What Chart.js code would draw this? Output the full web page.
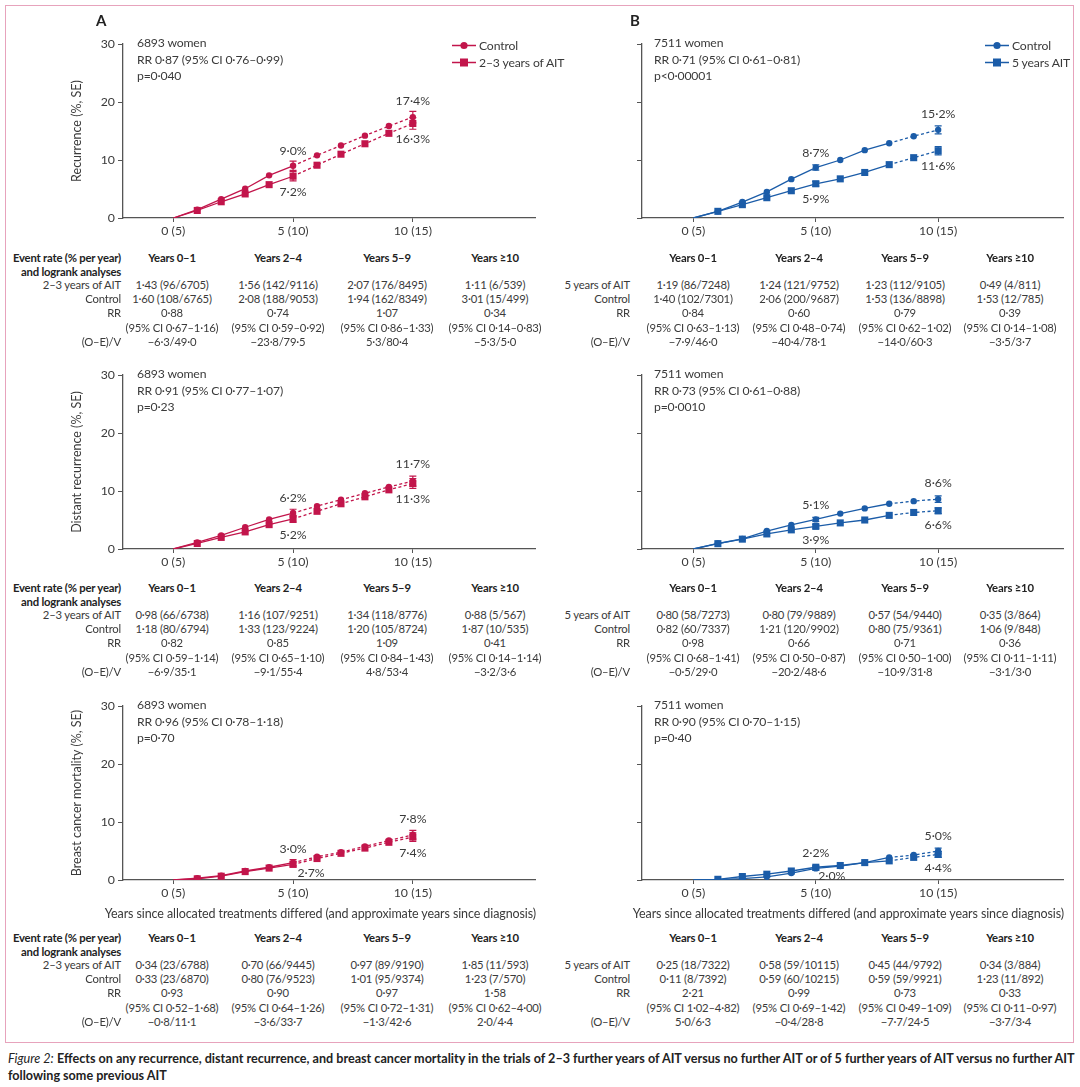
<!DOCTYPE html>
<html><head><meta charset="utf-8">
<script src="https://cdn.jsdelivr.net/npm/chart.js@4.4.0/dist/chart.umd.min.js"></script>
<style>
body{margin:0;width:1080px;height:1087px;background:#fff;position:relative;font-family:Lato,'Open Sans',sans-serif;color:#3a3a3a;overflow:hidden}
#frame{position:absolute;left:5px;top:5px;width:1069px;height:1038px;border:1px solid #e7a3bc;box-sizing:border-box}
.cc{position:absolute}
.t{position:absolute;white-space:nowrap;font-size:11.3px;letter-spacing:-0.2px;line-height:14px;transform:translate(-50%,-50%)}
.r{transform:translate(-100%,-50%)}
.b{font-weight:bold;color:#222}
.ann{position:absolute;white-space:nowrap;font-size:12.2px;letter-spacing:-0.15px;line-height:16.5px;color:#3a3a3a}
.ytitle{position:absolute;white-space:nowrap;font-size:12.5px;color:#3a3a3a;transform:translate(-50%,-50%) rotate(-90deg)}
.xtitle{position:absolute;white-space:nowrap;font-size:12.5px;letter-spacing:-0.1px;color:#3a3a3a;transform:translate(-100%,-50%)}
.panel{position:absolute;font-weight:bold;font-size:15px;color:#222}
.leg{position:absolute;white-space:nowrap;font-size:12.2px;letter-spacing:-0.15px;color:#3a3a3a;display:flex;align-items:center;transform:translate(0,-50%)}
.leg svg{margin-right:3px}
#cap{position:absolute;left:8px;top:1050px;font-size:12.6px;line-height:17px;color:#222;white-space:nowrap}
</style></head><body>
<div id="frame"></div>
<script>
// ---------- data ----------
const years = [0,1,2,3,4,5,6,7,8,9,10];
const xTickVals = [0,5,10];
const xTickLabels = ['0 (5)','5 (10)','10 (15)'];
const yTickVals = [0,10,20,30];
const seIdx = [5,10];

const recA_ctl = [0,1.45,3.25,5.05,7.35,9.0,10.8,12.5,14.2,15.85,17.4];
const recA_ait = [0,1.3,2.8,4.15,5.75,7.2,9.1,11.0,12.8,14.6,16.3];
const recA_ctl_se = [0.8,1.0];
const recA_ait_se = [0.8,1.0];
const recB_ctl = [0,1.15,2.75,4.5,6.7,8.7,10.0,11.7,12.9,14.1,15.2];
const recB_ait = [0,1.15,2.3,3.5,4.7,5.9,6.75,7.85,9.2,10.4,11.6];
const recB_ctl_se = [0.45,0.7];
const recB_ait_se = [0.4,0.7];
const distA_ctl = [0,1.15,2.35,3.75,5.1,6.2,7.4,8.5,9.6,10.7,11.7];
const distA_ait = [0,0.95,2.0,2.95,4.2,5.2,6.5,7.8,9.0,10.2,11.3];
const distA_ctl_se = [0.65,0.85];
const distA_ait_se = [0.6,0.85];
const distB_ctl = [0,0.95,1.75,3.1,4.15,5.1,6.1,7.0,7.8,8.25,8.6];
const distB_ait = [0,0.92,1.7,2.6,3.3,3.9,4.5,5.0,5.8,6.3,6.6];
const distB_ctl_se = [0.35,0.55];
const distB_ait_se = [0.3,0.5];
const mortA_ctl = [0,0.3,0.75,1.55,2.2,3.0,4.0,4.8,5.8,6.8,7.8];
const mortA_ait = [0,0.2,0.65,1.45,2.05,2.7,3.7,4.6,5.5,6.5,7.4];
const mortA_ctl_se = [0.5,0.75];
const mortA_ait_se = [0.45,0.75];
const mortB_ctl = [0,0.05,0.25,0.55,1.2,2.0,2.4,3.0,3.9,4.3,5.0];
const mortB_ait = [0,0.12,0.6,1.0,1.55,2.2,2.5,3.0,3.3,3.9,4.4];
const mortB_ctl_se = [0.3,0.5];
const mortB_ait_se = [0.3,0.5];

// end-point labels: [control@5, ait@5, control@10, ait@10]
const recA_lbl = ['9·0%','7·2%','17·4%','16·3%'];
const recB_lbl = ['8·7%','5·9%','15·2%','11·6%'];
const distA_lbl = ['6·2%','5·2%','11·7%','11·3%'];
const distB_lbl = ['5·1%','3·9%','8·6%','6·6%'];
const mortA_lbl = ['3·0%','2·7%','7·8%','7·4%'];
const mortB_lbl = ['2·0%','2·2%','5·0%','4·4%'];

const recA_note = ['6893 women','RR 0·87 (95% CI 0·76–0·99)','p=0·040'];
const recB_note = ['7511 women','RR 0·71 (95% CI 0·61–0·81)','p<0·00001'];
const distA_note = ['6893 women','RR 0·91 (95% CI 0·77–1·07)','p=0·23'];
const distB_note = ['7511 women','RR 0·73 (95% CI 0·61–0·88)','p=0·0010'];
const mortA_note = ['6893 women','RR 0·96 (95% CI 0·78–1·18)','p=0·70'];
const mortB_note = ['7511 women','RR 0·90 (95% CI 0·70–1·15)','p=0·40'];

const tblHeaders = ['Years 0–1','Years 2–4','Years 5–9','Years ≥10'];
const rowLabelsA = ['2–3 years of AIT','Control','RR','','(O–E)/V'];
const rowLabelsB = ['5 years of AIT','Control','RR','','(O–E)/V'];

const recA_tbl_ait = ['1·43 (96/6705)','1·56 (142/9116)','2·07 (176/8495)','1·11 (6/539)'];
const recA_tbl_ctl = ['1·60 (108/6765)','2·08 (188/9053)','1·94 (162/8349)','3·01 (15/499)'];
const recA_tbl_rr = ['0·88','0·74','1·07','0·34'];
const recA_tbl_ci = ['(95% CI 0·67–1·16)','(95% CI 0·59–0·92)','(95% CI 0·86–1·33)','(95% CI 0·14–0·83)'];
const recA_tbl_oev = ['−6·3/49·0','−23·8/79·5','5·3/80·4','−5·3/5·0'];

const recB_tbl_ait = ['1·19 (86/7248)','1·24 (121/9752)','1·23 (112/9105)','0·49 (4/811)'];
const recB_tbl_ctl = ['1·40 (102/7301)','2·06 (200/9687)','1·53 (136/8898)','1·53 (12/785)'];
const recB_tbl_rr = ['0·84','0·60','0·79','0·39'];
const recB_tbl_ci = ['(95% CI 0·63–1·13)','(95% CI 0·48–0·74)','(95% CI 0·62–1·02)','(95% CI 0·14–1·08)'];
const recB_tbl_oev = ['−7·9/46·0','−40·4/78·1','−14·0/60·3','−3·5/3·7'];

const distA_tbl_ait = ['0·98 (66/6738)','1·16 (107/9251)','1·34 (118/8776)','0·88 (5/567)'];
const distA_tbl_ctl = ['1·18 (80/6794)','1·33 (123/9224)','1·20 (105/8724)','1·87 (10/535)'];
const distA_tbl_rr = ['0·82','0·85','1·09','0·41'];
const distA_tbl_ci = ['(95% CI 0·59–1·14)','(95% CI 0·65–1·10)','(95% CI 0·84–1·43)','(95% CI 0·14–1·14)'];
const distA_tbl_oev = ['−6·9/35·1','−9·1/55·4','4·8/53·4','−3·2/3·6'];

const distB_tbl_ait = ['0·80 (58/7273)','0·80 (79/9889)','0·57 (54/9440)','0·35 (3/864)'];
const distB_tbl_ctl = ['0·82 (60/7337)','1·21 (120/9902)','0·80 (75/9361)','1·06 (9/848)'];
const distB_tbl_rr = ['0·98','0·66','0·71','0·36'];
const distB_tbl_ci = ['(95% CI 0·68–1·41)','(95% CI 0·50–0·87)','(95% CI 0·50–1·00)','(95% CI 0·11–1·11)'];
const distB_tbl_oev = ['−0·5/29·0','−20·2/48·6','−10·9/31·8','−3·1/3·0'];

const mortA_tbl_ait = ['0·34 (23/6788)','0·70 (66/9445)','0·97 (89/9190)','1·85 (11/593)'];
const mortA_tbl_ctl = ['0·33 (23/6870)','0·80 (76/9523)','1·01 (95/9374)','1·23 (7/570)'];
const mortA_tbl_rr = ['0·93','0·90','0·97','1·58'];
const mortA_tbl_ci = ['(95% CI 0·52–1·68)','(95% CI 0·64–1·26)','(95% CI 0·72–1·31)','(95% CI 0·62–4·00)'];
const mortA_tbl_oev = ['−0·8/11·1','−3·6/33·7','−1·3/42·6','2·0/4·4'];

const mortB_tbl_ait = ['0·25 (18/7322)','0·58 (59/10115)','0·45 (44/9792)','0·34 (3/884)'];
const mortB_tbl_ctl = ['0·11 (8/7392)','0·59 (60/10215)','0·59 (59/9921)','1·23 (11/892)'];
const mortB_tbl_rr = ['2·21','0·99','0·73','0·33'];
const mortB_tbl_ci = ['(95% CI 1·02–4·82)','(95% CI 0·69–1·42)','(95% CI 0·49–1·09)','(95% CI 0·11–0·97)'];
const mortB_tbl_oev = ['5·0/6·3','−0·4/28·8','−7·7/24·5','−3·7/3·4'];

// ---------- style ----------
const RED = '#c2154b', BLUE = '#1b5ca8', TXT = '#3a3a3a', AX = '#555';
Chart.defaults.font.family = 'Lato, "Open Sans", sans-serif';
Chart.defaults.color = TXT;

function el(tag, cls, css, html){ const d=document.createElement(tag); if(cls) d.className=cls; Object.assign(d.style, css||{}); if(html!==undefined) d.innerHTML=html; document.body.appendChild(d); return d; }

const errPlugin = {
  id:'err',
  afterDatasetsDraw(chart, args, o){
    const c = chart.ctx, xs = chart.scales.x, ys = chart.scales.y;
    c.save(); c.strokeStyle = o.color; c.lineWidth = 1.2;
    [[o.ctl,o.ctlSE],[o.ait,o.aitSE]].forEach(([vals,se])=>{
      seIdx.forEach((idx,k)=>{
        const x = xs.getPixelForValue(years[idx]);
        const y1 = ys.getPixelForValue(vals[idx]-se[k]), y2 = ys.getPixelForValue(vals[idx]+se[k]);
        c.beginPath(); c.moveTo(x,y1); c.lineTo(x,y2);
        c.moveTo(x-3.5,y1); c.lineTo(x+3.5,y1); c.moveTo(x-3.5,y2); c.lineTo(x+3.5,y2); c.stroke();
      });
    });
    c.restore();
  }
};
const lblPlugin = {
  id:'lbl',
  afterDatasetsDraw(chart, args, o){
    const c = chart.ctx, xs = chart.scales.x, ys = chart.scales.y;
    c.save(); c.fillStyle = TXT; c.font = '12.3px Lato, "Open Sans", sans-serif'; c.textAlign='center'; c.textBaseline='middle';
    o.items.forEach((it,i)=>{
      const vals = it.s===0 ? o.ctl : o.ait;
      const x = xs.getPixelForValue(years[it.i]) + (it.dx||0);
      const y = ys.getPixelForValue(vals[it.i]) + it.dy;
      c.fillText(o.texts[i], x, y);
    });
    c.restore();
  }
};

function makeChart(cfg){
  const wrap = el('div','cc',{left:cfg.left+'px',top:(cfg.axTop-44)+'px',width:cfg.w+'px',height:'250px'});
  const cv = document.createElement('canvas'); cv.width = cfg.w; cv.height = 250; cv.style.width=cfg.w+'px'; cv.style.height='250px'; wrap.appendChild(cv);
  const ds = (vals, style, r, label)=>({
    label, data: years.map((x,i)=>({x, y: vals[i]})),
    borderColor: cfg.color, backgroundColor: cfg.color, borderWidth: 1.3,
    pointStyle: style, pointRadius: ctx=>ctx.dataIndex===0?0:r, pointBorderWidth:0, pointHoverRadius:0,
    segment:{borderDash: ctx=> ctx.p0.parsed.x >= cfg.dashFrom ? [3,2.5] : undefined},
    tension:0, fill:false
  });
  return new Chart(cv, {
    type:'line',
    data:{datasets:[ds(cfg.ctl,'circle',3.2,'Control'), ds(cfg.ait,'rect',5,'AIT')]},
    options:{
      responsive:false, animation:false, devicePixelRatio:1,
      layout:{padding:{top:44,right:cfg.padR,left:0,bottom:0}},
      plugins:{legend:{display:false}, tooltip:{enabled:false},
        err:{color:cfg.color, ctl:cfg.ctl, ait:cfg.ait, ctlSE:cfg.ctlSE, aitSE:cfg.aitSE},
        lbl:{ctl:cfg.ctl, ait:cfg.ait, texts:cfg.lbl, items:cfg.lblPos}},
      scales:{
        x:{type:'linear', min:-2.1, max:15.1,
          afterBuildTicks:s=>{s.ticks = xTickVals.map(v=>({value:v}));},
          ticks:{callback:v=>xTickLabels[xTickVals.indexOf(v)], font:{size:12.3}, color:TXT, padding:2, maxRotation:0, autoSkip:false},
          grid:{display:true, drawOnChartArea:false, drawTicks:true, tickLength:4, color:AX, lineWidth:1},
          border:{display:true, color:AX, width:1.3},
          afterFit:s=>{s.height=32;}},
        y:{min:0, max:30,
          afterBuildTicks:s=>{s.ticks = yTickVals.map(v=>({value:v}));},
          ticks:{display:cfg.yLabels, font:{size:12.3}, color:TXT, padding:3},
          grid:{display:true, drawOnChartArea:false, drawTicks:true, tickLength:5, color:AX, lineWidth:1},
          border:{display:true, color:AX, width:1.3},
          afterFit:s=>{s.width=cfg.yW;}}
      }
    },
    plugins:[errPlugin, lblPlugin]
  });
}

const L = {left:0, w:545, yW:123, padR:10, yLabels:true, color:RED, dashFrom:5, noteX:137};
const R = {left:540, w:540, yW:102, padR:17, yLabels:false, color:BLUE, dashFrom:8, noteX:654};
const rowsTop = [44, 375, 706];

const charts = [
  Object.assign({}, L, {axTop:rowsTop[0], ctl:recA_ctl, ait:recA_ait, ctlSE:recA_ctl_se, aitSE:recA_ait_se, lbl:recA_lbl, note:recA_note, ytitle:'Recurrence (%, SE)',
    lblPos:[{s:0,i:5,dy:-15},{s:1,i:5,dy:16},{s:0,i:10,dy:-16},{s:1,i:10,dy:16}]}),
  Object.assign({}, R, {axTop:rowsTop[0], ctl:recB_ctl, ait:recB_ait, ctlSE:recB_ctl_se, aitSE:recB_ait_se, lbl:recB_lbl, note:recB_note,
    lblPos:[{s:0,i:5,dy:-15},{s:1,i:5,dy:15},{s:0,i:10,dy:-16},{s:1,i:10,dy:15}]}),
  Object.assign({}, L, {axTop:rowsTop[1], ctl:distA_ctl, ait:distA_ait, ctlSE:distA_ctl_se, aitSE:distA_ait_se, lbl:distA_lbl, note:distA_note, ytitle:'Distant recurrence (%, SE)',
    lblPos:[{s:0,i:5,dy:-15},{s:1,i:5,dy:16},{s:0,i:10,dy:-17},{s:1,i:10,dy:16}]}),
  Object.assign({}, R, {axTop:rowsTop[1], ctl:distB_ctl, ait:distB_ait, ctlSE:distB_ctl_se, aitSE:distB_ait_se, lbl:distB_lbl, note:distB_note,
    lblPos:[{s:0,i:5,dy:-14},{s:1,i:5,dy:14},{s:0,i:10,dy:-16},{s:1,i:10,dy:14}]}),
  Object.assign({}, L, {axTop:rowsTop[2], ctl:mortA_ctl, ait:mortA_ait, ctlSE:mortA_ctl_se, aitSE:mortA_ait_se, lbl:mortA_lbl, note:mortA_note, ytitle:'Breast cancer mortality (%, SE)',
    lblPos:[{s:0,i:5,dy:-14},{s:1,i:5,dx:18,dy:9},{s:0,i:10,dy:-16},{s:1,i:10,dy:16}]}),
  Object.assign({}, R, {axTop:rowsTop[2], ctl:mortB_ctl, ait:mortB_ait, ctlSE:mortB_ctl_se, aitSE:mortB_ait_se, lbl:mortB_lbl, note:mortB_note,
    lblPos:[{s:0,i:5,dx:16,dy:8},{s:1,i:5,dy:-14},{s:0,i:10,dy:-15},{s:1,i:10,dy:14}]})
];

charts.forEach(cfg=>{
  makeChart(cfg);
  el('div','ann',{left:cfg.noteX+'px', top:(cfg.axTop-9)+'px'}, cfg.note.join('<br>'));
  if(cfg.ytitle) el('div','ytitle',{left:'76px', top:(cfg.axTop+87)+'px'}, cfg.ytitle);
});

// panel letters
el('div','panel',{left:'96px',top:'11px'},'A');
el('div','panel',{left:'630px',top:'11px'},'B');

// legends
function legend(x, y, color, text, shape){
  const m = shape==='circle' ? `<circle cx="12" cy="5" r="3.6" fill="${color}"/>` : `<rect x="8" y="1" width="8" height="8" fill="${color}"/>`;
  el('div','leg',{left:x+'px',top:y+'px'}, `<svg width="24" height="10"><line x1="0" y1="5" x2="24" y2="5" stroke="${color}" stroke-width="1.3"/>${m}</svg>${text}`);
}
legend(452,45,RED,'Control','circle');
legend(452,62,RED,'2–3 years of AIT','rect');
legend(985,45,BLUE,'Control','circle');
legend(985,62,BLUE,'5 years AIT','rect');

// x-axis titles
el('div','xtitle',{left:'536px',top:'913px'},'Years since allocated treatments differed (and approximate years since diagnosis)');
el('div','xtitle',{left:'1064px',top:'913px'},'Years since allocated treatments differed (and approximate years since diagnosis)');

// tables
const colA = [172,278,387,495], colB = [693,799,905,1010];
const rowOff = [27,41,55,70,84];
function table(y0, labelX, cols, rowLabels, rows, leftHeader){
  if(leftHeader){
    el('div','t r b',{left:labelX+'px',top:y0+'px'},'Event rate (% per year)');
    el('div','t r b',{left:labelX+'px',top:(y0+14)+'px'},'and logrank analyses');
  }
  tblHeaders.forEach((h,j)=>el('div','t b',{left:cols[j]+'px',top:y0+'px'},h));
  rowLabels.forEach((lab,k)=>{ if(lab) el('div','t r',{left:labelX+'px',top:(y0+rowOff[k])+'px'},lab); });
  rows.forEach((arr,k)=>arr.forEach((v,j)=>el('div','t',{left:cols[j]+'px',top:(y0+rowOff[k])+'px'},v)));
}
table(258,121,colA,rowLabelsA,[recA_tbl_ait,recA_tbl_ctl,recA_tbl_rr,recA_tbl_ci,recA_tbl_oev],true);
table(258,630,colB,rowLabelsB,[recB_tbl_ait,recB_tbl_ctl,recB_tbl_rr,recB_tbl_ci,recB_tbl_oev],false);
table(588,121,colA,rowLabelsA,[distA_tbl_ait,distA_tbl_ctl,distA_tbl_rr,distA_tbl_ci,distA_tbl_oev],true);
table(588,630,colB,rowLabelsB,[distB_tbl_ait,distB_tbl_ctl,distB_tbl_rr,distB_tbl_ci,distB_tbl_oev],false);
table(938,121,colA,rowLabelsA,[mortA_tbl_ait,mortA_tbl_ctl,mortA_tbl_rr,mortA_tbl_ci,mortA_tbl_oev],true);
table(938,630,colB,rowLabelsB,[mortB_tbl_ait,mortB_tbl_ctl,mortB_tbl_rr,mortB_tbl_ci,mortB_tbl_oev],false);

// caption
const cap = el('div',null,{}, '<i>Figure 2:</i> <b>Effects on any recurrence, distant recurrence, and breast cancer mortality in the trials of 2–3 further years of AIT versus no further AIT or of 5 further years of AIT versus no further AIT</b><br><b>following some previous AIT</b>');
cap.id='cap';
</script>
</body></html>
